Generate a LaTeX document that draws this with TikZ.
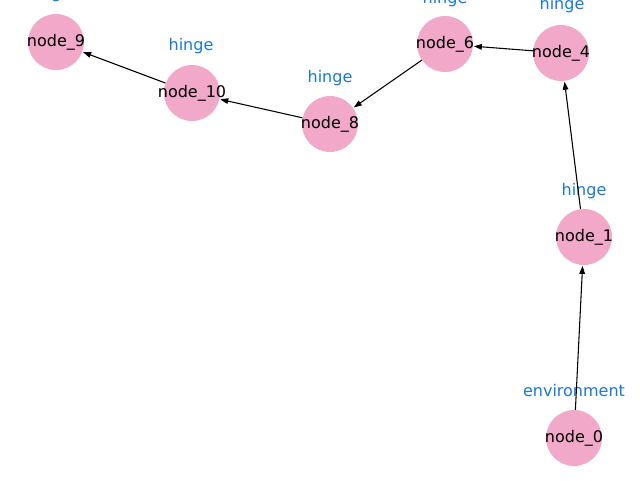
\documentclass[tikz,border=0pt]{standalone}
\usepackage{fontspec}
\setmainfont{DejaVu Sans}
\usetikzlibrary{arrows.meta}
\definecolor{nodepink}{HTML}{F2A8C8}
\definecolor{labelblue}{HTML}{1A78D2}
\tikzset{
  gnode/.style={circle,fill=nodepink,minimum size=42pt,inner sep=0pt},
  ntext/.style={font=\fontsize{12pt}{14pt}\selectfont,text=black,inner sep=0pt},
  glabel/.style={font=\fontsize{12pt}{14pt}\selectfont,text=labelblue,inner sep=0pt,anchor=base},
  gedge/.style={-{Triangle[length=6pt,width=4.2pt]},line width=0.8pt,black,shorten >=0.5pt}
}
\begin{document}
\begin{tikzpicture}[x=0.75pt,y=-0.75pt]
\useasboundingbox (0,0) rectangle (640,480);
\clip (0,0) rectangle (640,480);
\node[gnode,label={[ntext]center:node\_9}] (n9) at (56,42) {};
\node[gnode,label={[ntext]center:node\_10}] (n10) at (192,93) {};
\node[gnode,label={[ntext]center:node\_8}] (n8) at (330,124) {};
\node[gnode,label={[ntext]center:node\_6}] (n6) at (445,44) {};
\node[gnode,label={[ntext]center:node\_4}] (n4) at (561,53) {};
\node[gnode,label={[ntext]center:node\_1}] (n1) at (584,237) {};
\node[gnode,label={[ntext]center:node\_0}] (n0) at (574,438) {};
\node[glabel] (l9) at (49,-1.5) {hinge};
\node[glabel] (l10) at (191,50.7) {hinge};
\node[glabel] (l8) at (330,82) {hinge};
\node[glabel] (l6) at (445,3) {hinge};
\node[glabel] (l4) at (562,9.5) {hinge};
\node[glabel] (l1) at (584,195) {hinge};
\node[glabel] (l0) at (574,396) {environment};
\draw[gedge] (n0) -- (n1);
\draw[gedge] (n1) -- (n4);
\draw[gedge] (n4) -- (n6);
\draw[gedge] (n6) -- (n8);
\draw[gedge] (n8) -- (n10);
\draw[gedge] (n10) -- (n9);
\end{tikzpicture}
\end{document}
